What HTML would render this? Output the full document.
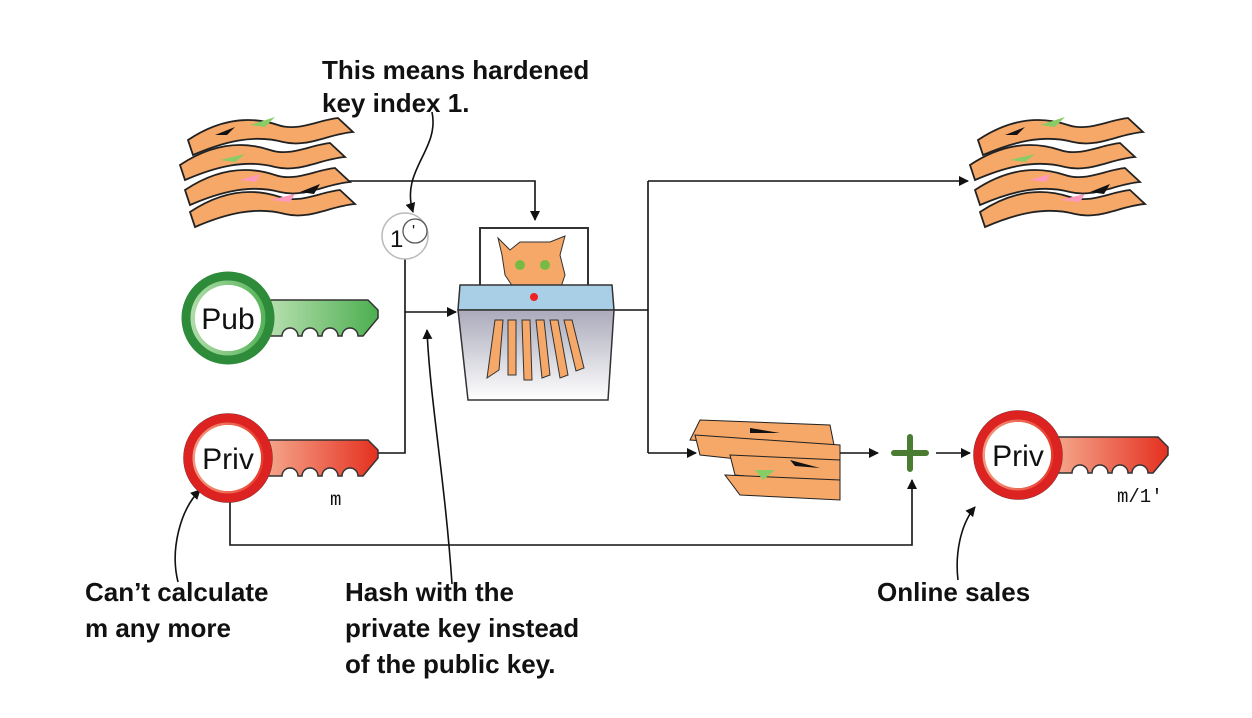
<!DOCTYPE html>
<html><head><meta charset="utf-8"><style>
html,body{margin:0;padding:0;background:#fff}
svg{display:block}
.t{font-family:"Liberation Sans",sans-serif;font-weight:bold;font-size:26px;fill:#111}
.k{font-family:"Liberation Sans",sans-serif;font-size:30px;fill:#111}
.m{font-family:"Liberation Mono",monospace;font-size:19px;fill:#111}
</style></head><body>
<svg width="1252" height="718" viewBox="0 0 1252 718" xmlns="http://www.w3.org/2000/svg">
<defs>
<marker id="a" markerWidth="10" markerHeight="10" refX="9" refY="5" orient="auto" markerUnits="userSpaceOnUse"><path d="M0,0 L10,5 L0,10 z" fill="#111"/></marker>
<linearGradient id="gg" x1="0" x2="1"><stop offset="0" stop-color="#b8e0b0"/><stop offset="1" stop-color="#4caf50"/></linearGradient>
<linearGradient id="rg" x1="0" x2="1"><stop offset="0" stop-color="#f4a58a"/><stop offset="1" stop-color="#e53020"/></linearGradient>
<linearGradient id="sg" x1="0" y1="0" x2="0" y2="1"><stop offset="0" stop-color="#aab"/><stop offset="1" stop-color="#fff"/></linearGradient>
<g id="strip"><path d="M0,20 C30,0 60,-5 90,5 C110,12 130,0 150,-2 L165,12 C140,14 120,28 95,22 C65,14 35,22 5,35 z" fill="#f5a868" stroke="#222" stroke-width="1.8"/></g>
<g id="stack">
<use href="#strip" x="8" y="-10"/><path d="M35,5 l20,-8 l-8,8z" fill="#111"/><path d="M70,-5 l25,-8 l-10,10z" fill="#8c6"/>
<use href="#strip" x="0" y="15"/><path d="M40,30 l25,-6 l-10,8z" fill="#8c6"/>
<use href="#strip" x="5" y="40"/><path d="M60,50 l20,-6 l-4,8z" fill="#f9b"/>
<use href="#strip" x="10" y="62"/><path d="M120,62 l20,-8 l-6,10z" fill="#111"/><path d="M90,70 l25,-6 l-5,8z" fill="#f9b"/>
</g>
<g id="key">
<path d="M40,-18 L140,-18 L150,-8 L150,0 L135,18 L130,18 a8,8 0 0 0 -16,0 L110,18 a8,8 0 0 0 -16,0 L90,18 a8,8 0 0 0 -16,0 L70,18 a8,8 0 0 0 -16,0 L40,18 z" stroke="#333" stroke-width="1.5"/>
<circle cx="0" cy="0" r="44" stroke="#333" stroke-width="1.5"/>
<circle cx="0" cy="0" r="33" fill="#fff"/>
</g>
</defs>
<g fill="none" stroke="#111" stroke-width="1.6">
<path d="M330,181 H535 V220" marker-end="url(#a)"/>
<path d="M405,258 V453 H375"/>
<path d="M405,312 H456" marker-end="url(#a)"/>
<path d="M614,310 H648 M648,181 V453"/>
<path d="M648,181 H968" marker-end="url(#a)"/>
<path d="M648,453 H696" marker-end="url(#a)"/>
<path d="M838,453 H878" marker-end="url(#a)"/>
<path d="M936,453 H970" marker-end="url(#a)"/>
<path d="M230,500 V545 H912 V480" marker-end="url(#a)"/>
<path d="M432,112 C440,150 400,170 413,212" marker-end="url(#a)"/>
<path d="M452,584 C445,480 430,400 427,330" marker-end="url(#a)"/>
<path d="M178,582 C170,550 180,510 200,490" marker-end="url(#a)"/>
<path d="M958,580 C955,555 960,525 975,507" marker-end="url(#a)"/>
</g>
<circle cx="405" cy="236" r="23" fill="#fff" stroke="#bbb" stroke-width="1.5"/>
<circle cx="415" cy="231" r="12" fill="#fff" stroke="#555" stroke-width="1.3"/>
<text x="390" y="247" class="k" style="font-size:24px">1</text>
<text x="412" y="236" class="k" style="font-size:16px">'</text>
<use href="#stack" x="180" y="130"/>
<use href="#stack" x="970" y="130"/>
<g transform="translate(690,420)">
<path d="M10,0 L140,5 L145,30 L0,20z" fill="#f5a868" stroke="#222"/>
<path d="M5,15 L150,25 L150,50 L10,35z" fill="#f5a868" stroke="#222"/>
<path d="M40,35 L150,40 L150,65 L45,55z" fill="#f5a868" stroke="#222"/>
<path d="M35,55 L150,60 L150,80 L50,75z" fill="#f5a868" stroke="#222"/>
<path d="M65,50 l20,0 l-12,10z" fill="#8c6"/><path d="M60,8 l30,5 l-30,0z M100,40 l30,8 l-25,-2z" fill="#111"/>
</g>
<g transform="translate(228,318)" fill="url(#gg)"><use href="#key"/></g>
<circle cx="228" cy="318" r="42" fill="none" stroke="#2e8b3a" stroke-width="9"/>
<circle cx="228" cy="318" r="33" fill="#fff"/>
<text x="228" y="329" class="k" text-anchor="middle">Pub</text>
<g transform="translate(228,458)" fill="url(#rg)"><use href="#key"/></g>
<circle cx="228" cy="458" r="40" fill="none" stroke="#d22" stroke-width="9"/>
<circle cx="228" cy="458" r="33" fill="#fff"/>
<text x="228" y="469" class="k" text-anchor="middle">Priv</text>
<g transform="translate(1018,455)" fill="url(#rg)"><use href="#key"/></g>
<circle cx="1018" cy="455" r="40" fill="none" stroke="#d22" stroke-width="9"/>
<circle cx="1018" cy="455" r="33" fill="#fff"/>
<text x="1018" y="466" class="k" text-anchor="middle">Priv</text>
<text x="330" y="505" class="m">m</text>
<text x="1117" y="502" class="m">m/1'</text>
<rect x="480" y="228" width="108" height="66" fill="#fff" stroke="#333" stroke-width="2"/>
<path d="M498,238 L510,250 L520,242 L550,242 L565,236 L560,255 L565,275 L560,290 L515,290 L505,275 L502,255z" fill="#f5a868" stroke="#333"/>
<circle cx="520" cy="265" r="5" fill="#7b4"/><circle cx="545" cy="265" r="5" fill="#7b4"/>
<path d="M460,285 L612,285 L614,310 L458,310z" fill="#a9cfe6" stroke="#333" stroke-width="1.5"/>
<circle cx="534" cy="297" r="4" fill="#e22"/>
<path d="M458,310 L614,310 L608,400 L468,400z" fill="url(#sg)" stroke="#333" stroke-width="1.5"/>
<g fill="#f5a868" stroke="#333">
<path d="M495,320 l8,0 l-4,50 l-12,8 z"/><path d="M508,320 l8,0 l0,55 l-8,0z"/><path d="M522,320 l8,0 l2,60 l-8,0z"/><path d="M536,320 l8,0 l6,55 l-8,3z"/><path d="M550,320 l8,0 l10,55 l-8,3z"/><path d="M564,320 l8,0 l12,48 l-8,3z"/>
</g>
<path d="M910,437 V469 M894,453 H926" stroke="#4a7d32" stroke-width="6" stroke-linecap="round"/>
<text class="t" x="322" y="79">This means hardened</text>
<text class="t" x="322" y="112">key index 1.</text>
<text class="t" x="85" y="601">Can’t calculate</text>
<text class="t" x="85" y="637">m any more</text>
<text class="t" x="345" y="601">Hash with the</text>
<text class="t" x="345" y="637">private key instead</text>
<text class="t" x="345" y="673">of the public key.</text>
<text class="t" x="877" y="601">Online sales</text>
</svg>
</body></html>
